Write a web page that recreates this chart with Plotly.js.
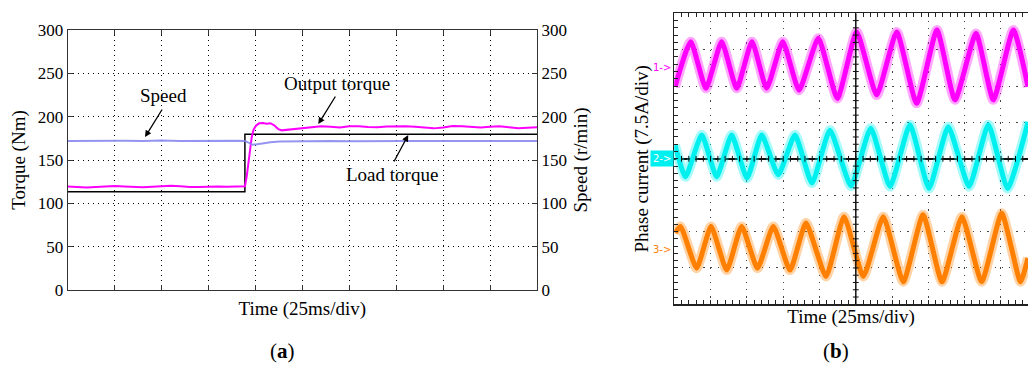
<!DOCTYPE html>
<html>
<head>
<meta charset="utf-8">
<script src="https://cdn.plot.ly/plotly-3.0.1.min.js"></script>
<style>
  html, body { margin: 0; padding: 0; background: #fff; overflow: hidden; }
  #chart { width: 1028px; height: 365px; }
</style>
</head>
<body>
<div id="chart"></div>
<script>
// ---------- Panel (a): torque / speed step response (time in ms) ----------
const loadTime   = [0, 94.4, 94.4, 250];
const loadTorque = [113.5, 113.5, 179.8, 179.8];

const speedTime = [0, 10, 20, 30, 40, 50, 60, 70, 80, 90, 94.4, 96.5, 98.7, 101, 104, 108, 113, 120, 130, 140, 150, 160, 170, 180, 190, 200, 210, 220, 230, 240, 250];
const speedVal  = [172, 172.3, 171.8, 172.2, 172, 172.4, 171.9, 172.2, 172.1, 172.3, 172, 169.5, 167.5, 168.3, 169.6, 170.6, 171.3, 171.6, 171.4, 171.8, 171.5, 171.9, 171.6, 172, 171.8, 172.1, 171.7, 172, 171.8, 172, 171.9];

const torqueTime = [0, 5, 10, 15, 20, 25, 30, 35, 40, 45, 50, 55, 60, 65, 70, 75, 80, 85, 90, 94.4,
                    95.3, 96.2, 97.1, 98, 99, 100.5, 102, 104, 106, 108, 110, 112, 114, 117, 120,
                    125, 130, 135, 140, 145, 150, 155, 160, 165, 170, 175, 180, 185, 190, 195,
                    200, 205, 210, 215, 220, 225, 230, 235, 240, 245, 250];
const torqueVal  = [119.3, 118.8, 118.4, 118.9, 119.6, 120.1, 119.5, 118.8, 118.6, 119.2, 119.9, 120.4, 119.6, 118.8, 118.9, 119.5, 119.3, 119.0, 119.6, 119.8,
                    130, 148, 163, 176, 185, 190, 192.3, 192.6, 191.8, 192.4, 190, 186, 184.2, 184.8, 185.8,
                    186.6, 187.8, 188.9, 188.3, 187.6, 188.8, 189.0, 188.2, 187.8, 188.6, 189.1, 189.0, 188.3, 187.0, 186.5,
                    187.6, 189.2, 188.8, 188.0, 187.6, 188.4, 189.0, 187.8, 186.6, 187.2, 187.8];

// ---------- Panel (b): three phase currents (time in ms, current in A) ----------
const tPhase1 = [0.5, 11.3, 21.8, 32.6, 43.0, 53.5, 63.6, 74.7, 85.9, 99.2, 112.3, 125.6, 139.4, 153.2, 166.9, 180.9, 193.3, 207.8, 219.7, 233.5, 243.6];
const iPhase1 = [-3.9, 5.4, -4.2, 5.4, -4.2, 5.4, -4.2, 5.4, -4.6, 6.1, -6.3, 7.4, -5.6, 7.4, -7.3, 7.8, -6.6, 7.1, -6.6, 7.8, -3.9];

const tPhase2 = [0.5, 7.7, 18.9, 29.2, 39.5, 50.1, 60.2, 71.6, 83.1, 94.8, 107.2, 121.7, 135.3, 148.6, 162.3, 175.4, 188.7, 203.0, 216.3, 229.5, 243.6];
const iPhase2 = [2.8, -3.7, 4.9, -3.7, 4.9, -4.0, 4.9, -3.3, 4.9, -5.0, 5.9, -5.6, 6.3, -5.7, 7.0, -6.1, 6.6, -5.7, 7.0, -6.1, 7.6];

const tPhase3 = [0.5, 4.3, 15.4, 25.3, 36.1, 46.4, 57.3, 68.2, 79.7, 90.7, 104.5, 116.9, 130.2, 143.9, 157.7, 171.3, 184.4, 198.1, 211.7, 225.5, 238.4, 243.6];
const iPhase3 = [3.5, 4.8, -3.8, 4.8, -4.2, 4.8, -3.8, 4.8, -4.2, 5.5, -5.5, 6.8, -5.5, 6.8, -6.6, 7.2, -6.6, 6.8, -6.6, 7.5, -6.6, -1.7];

const channelLabels = ['1->', '2->', '3->'];
const channelColors = ['#ff00ff', '#00f0f0', '#ff8000'];
const channelHalo   = ['rgba(255,0,255,0.35)', 'rgba(0,240,240,0.35)', 'rgba(255,128,0,0.35)'];
const ampsPerDiv = 7.5;
const channelOffsetDiv = [2.5, 0, -2.5];

// ---------- traces ----------
const FONT = 'Liberation Serif, Times New Roman, serif';
const traces = [
  { x: loadTime, y: loadTorque, type: 'scatter', mode: 'lines', name: 'Load torque',
    line: { color: '#000', width: 1.5 }, xaxis: 'x', yaxis: 'y' },
  { x: speedTime, y: speedVal, type: 'scatter', mode: 'lines', name: 'Speed',
    line: { color: 'rgba(130,130,238,0.85)', width: 2 }, xaxis: 'x', yaxis: 'y3' },
  { x: torqueTime, y: torqueVal, type: 'scatter', mode: 'lines', name: 'Output torque',
    line: { color: '#ff00ff', width: 2 }, xaxis: 'x', yaxis: 'y' }
];
const phaseT = [tPhase1, tPhase2, tPhase3];
const phaseI = [iPhase1, iPhase2, iPhase3];
for (let k = 0; k < 3; k++) {
  const off = channelOffsetDiv[k] * ampsPerDiv;
  const yy = phaseI[k].map(v => v + off);
  traces.push({
    x: phaseT[k], y: yy, type: 'scatter', mode: 'lines', hoverinfo: 'skip',
    name: 'Phase ' + (k + 1) + ' band', line: { color: channelHalo[k], width: 10, shape: 'spline', smoothing: 0.5 },
    xaxis: 'x2', yaxis: 'y2'
  });
  traces.push({
    x: phaseT[k], y: yy, type: 'scatter', mode: 'lines',
    name: 'Phase ' + (k + 1), line: { color: channelColors[k], width: 5, shape: 'spline', smoothing: 0.5 },
    xaxis: 'x2', yaxis: 'y2'
  });
}

// ---------- layout ----------
const W = 1028, H = 365;
const px = v => v / W;
const py = v => (H - v) / H;

const shapes = [];
shapes.push({ type: 'line', xref: 'x2', yref: 'y2', x0: 125, x1: 125, y0: -30, y1: 30, line: { color: '#111', width: 1.5 } });
for (let t = 5; t < 245; t += 5) {
  shapes.push({ type: 'line', xref: 'x2', yref: 'y2', x0: t, x1: t, y0: -0.6, y1: 0.6, line: { color: '#111', width: 1 } });
}
for (let a = -28.5; a < 30; a += 1.5) {
  shapes.push({ type: 'line', xref: 'x2', yref: 'y2', x0: 123, x1: 127, y0: a, y1: a, line: { color: '#111', width: 1 } });
}

const annotations = [
  { xref: 'x', yref: 'y', x: 50.8, y: 225, text: 'Speed', showarrow: false, font: { family: FONT, size: 19, color: '#000' } },
  { xref: 'x', yref: 'y', x: 41.2, y: 176.5, ax: 18, ay: -29, text: '', showarrow: true, arrowhead: 2, arrowsize: 1, arrowwidth: 1.3, arrowcolor: '#000' },
  { xref: 'x', yref: 'y', x: 143.2, y: 238.8, text: 'Output torque', showarrow: false, font: { family: FONT, size: 19, color: '#000' } },
  { xref: 'x', yref: 'y', x: 133.5, y: 191.5, ax: 18, ay: -29, text: '', showarrow: true, arrowhead: 2, arrowsize: 1, arrowwidth: 1.3, arrowcolor: '#000' },
  { xref: 'x', yref: 'y', x: 173, y: 132.7, text: 'Load torque', showarrow: false, font: { family: FONT, size: 19, color: '#000' } },
  { xref: 'x', yref: 'y', x: 181.4, y: 178.8, ax: -15, ay: 28, text: '', showarrow: true, arrowhead: 2, arrowsize: 1, arrowwidth: 1.3, arrowcolor: '#000' },
  { xref: 'paper', yref: 'paper', x: px(282), y: py(351), xanchor: 'center', yanchor: 'middle', text: '(<b>a</b>)', showarrow: false, font: { family: FONT, size: 21, color: '#000' } },
  { xref: 'paper', yref: 'paper', x: px(836), y: py(351), xanchor: 'center', yanchor: 'middle', text: '(<b>b</b>)', showarrow: false, font: { family: FONT, size: 21, color: '#000' } }
];
for (let k = 0; k < 3; k++) {
  const a = {
    xref: 'x2', yref: 'y2', x: 0, y: channelOffsetDiv[k] * ampsPerDiv, xanchor: 'right', yanchor: 'middle', xshift: -1,
    text: channelLabels[k], showarrow: false,
    font: { family: 'DejaVu Sans, sans-serif', size: 10, color: channelColors[k] }
  };
  if (k === 1) { a.bgcolor = channelColors[k]; a.font.color = '#fff'; a.borderpad = 2; a.xshift = 0; }
  annotations.push(a);
}

const gridA = { showgrid: true, gridcolor: '#000', griddash: '1px,4px', gridwidth: 1 };
const layout = {
  width: W, height: H,
  margin: { l: 0, r: 0, t: 0, b: 0 },
  paper_bgcolor: '#fff', plot_bgcolor: 'rgba(0,0,0,0)',
  showlegend: false,
  font: { family: FONT, size: 17, color: '#000' },
  xaxis: Object.assign({
    domain: [px(67.7), px(537)], range: [0, 250], dtick: 25, tick0: 0,
    showline: true, linecolor: '#333', linewidth: 1, mirror: 'ticks',
    ticks: 'inside', ticklen: 5, tickcolor: '#333', showticklabels: false, zeroline: false,
    title: { text: 'Time (25ms/div)', font: { family: FONT, size: 19 }, standoff: 11 },
    anchor: 'y'
  }, gridA),
  yaxis: Object.assign({
    domain: [py(290), py(30)], range: [0, 300], dtick: 50, tick0: 0,
    showline: true, linecolor: '#333', linewidth: 1,
    ticks: 'inside', ticklen: 5, tickcolor: '#333', zeroline: false,
    tickfont: { family: FONT, size: 17 },
    title: { text: 'Torque (Nm)', font: { family: FONT, size: 19 }, standoff: 7 },
    anchor: 'x'
  }, gridA),
  yaxis3: {
    overlaying: 'y', side: 'right', anchor: 'x', range: [0, 300], dtick: 50, tick0: 0,
    showline: true, linecolor: '#333', linewidth: 1, showgrid: false, zeroline: false,
    ticks: 'inside', ticklen: 5, tickcolor: '#333',
    tickfont: { family: FONT, size: 17 },
    title: { text: 'Speed (r/min)', font: { family: FONT, size: 19 }, standoff: 7 }
  },
  xaxis2: {
    domain: [px(674.3), 1], range: [0, 243.6], dtick: 25, tick0: 0, anchor: 'y2',
    showline: true, linecolor: '#222', linewidth: 1.5, mirror: 'allticks',
    ticks: 'inside', ticklen: 4, tickcolor: '#222', showticklabels: false, zeroline: false,
    minor: { dtick: 5, ticks: 'inside', ticklen: 4, tickcolor: '#222', showgrid: false },
    showgrid: true, gridcolor: '#444', griddash: '1.3px,5.96px', gridwidth: 1,
    title: { text: 'Time (25ms/div)', font: { family: FONT, size: 19 }, standoff: 5 }
  },
  yaxis2: {
    domain: [py(304.3), py(13.3)], range: [-30, 30], dtick: 7.5, tick0: 0, anchor: 'x2',
    showline: true, linecolor: '#222', linewidth: 1.5,
    ticks: 'inside', ticklen: 4, tickcolor: '#222', showticklabels: false,
    minor: { dtick: 1.5, ticks: 'inside', ticklen: 4, tickcolor: '#222', showgrid: false },
    showgrid: true, gridcolor: '#444', griddash: '1.3px,5.98px', gridwidth: 1,
    zeroline: true, zerolinecolor: '#111', zerolinewidth: 1.5,
    title: { text: 'Phase current (7.5A/div)', font: { family: FONT, size: 19 }, standoff: 19 }
  },
  shapes: shapes,
  annotations: annotations
};

Plotly.newPlot('chart', traces, layout, { displayModeBar: false, staticPlot: true });
</script>
</body>
</html>
